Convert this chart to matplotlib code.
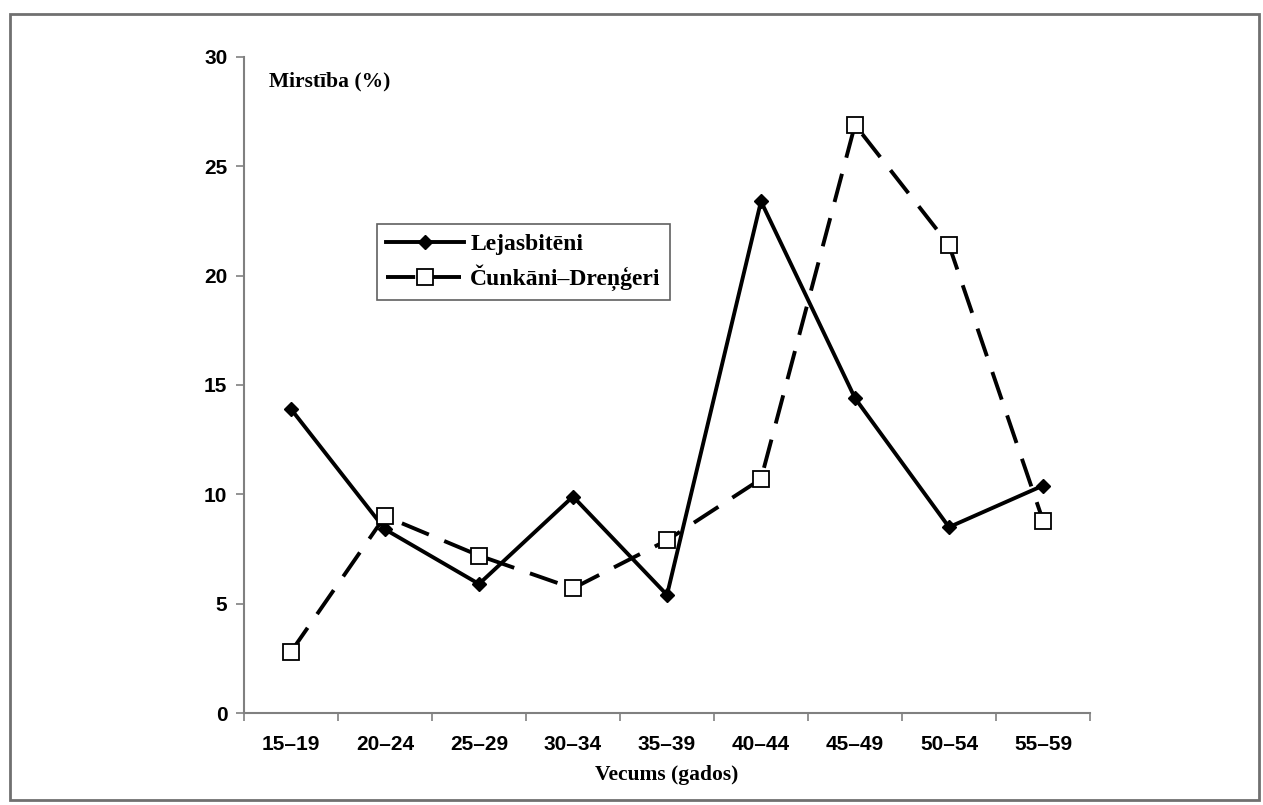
import matplotlib
matplotlib.use("Agg")
import matplotlib.pyplot as plt
from matplotlib.patches import Rectangle
from matplotlib.ticker import FixedLocator, NullFormatter

categories = ["15–19", "20–24", "25–29", "30–34", "35–39", "40–44", "45–49", "50–54", "55–59"]
lejasbiteni = [13.9, 8.4, 5.9, 9.9, 5.4, 23.4, 14.4, 8.5, 10.4]
cunkani = [2.8, 9.0, 7.2, 5.7, 7.9, 10.7, 26.9, 21.4, 8.8]
y_ticks = [0, 5, 10, 15, 20, 25, 30]

plt.rcParams['lines.scale_dashes'] = False

fig = plt.figure(figsize=(12.63, 8.05), dpi=100)
fig.patch.set_facecolor("white")
ax = fig.add_axes([244/1263, 1-713/805, (1090-244)/1263, (713-57)/805])

# figure frame
fig.patches.append(Rectangle((10/1263, 1-800/805), (1259-10)/1263, (800-14)/805,
                             transform=fig.transFigure, fill=False,
                             edgecolor="#707070", linewidth=2.0))

x = list(range(len(categories)))
ax.plot(x, lejasbiteni, color="black", linewidth=2.8, marker="D", markersize=7,
        markerfacecolor="black", markeredgecolor="black", label="Lejasbitēni", zorder=3)
ax.plot(x, cunkani, color="black", linewidth=2.8, linestyle=(0, (21, 12)), marker="s",
        markersize=12, markerfacecolor="white", markeredgecolor="black",
        markeredgewidth=1.3, label="Čunkāni–Dreņģeri", zorder=4)

ax.set_xlim(-0.5, len(categories) - 0.5)
ax.set_ylim(0, 30)
ax.set_yticks(y_ticks)
ax.set_yticklabels([str(t) for t in y_ticks], fontfamily="Liberation Sans",
                   fontweight="bold", fontsize=15)

# x: tick marks at category boundaries, labels at centers
ax.xaxis.set_major_locator(FixedLocator([i - 0.5 for i in range(len(categories) + 1)]))
ax.xaxis.set_major_formatter(NullFormatter())
ax.xaxis.set_minor_locator(FixedLocator(x))
ax.set_xticklabels(categories, minor=True, fontfamily="Liberation Sans",
                   fontweight="bold", fontsize=15)
ax.tick_params(axis="x", which="minor", length=0, pad=16)
ax.tick_params(axis="x", which="major", length=6, width=1.2, color="#808080", direction="out")
ax.tick_params(axis="y", which="major", length=6, width=1.2, color="#808080", direction="out", pad=6)

for s in ["top", "right"]:
    ax.spines[s].set_visible(False)
for s in ["left", "bottom"]:
    ax.spines[s].set_color("#808080")
    ax.spines[s].set_linewidth(1.5)

ax.set_xlabel("Vecums (gados)", fontfamily="Liberation Serif", fontweight="bold",
              fontsize=15.5, labelpad=8)
ax.text(0.03, 0.962, "Mirstība (%)", transform=ax.transAxes, fontfamily="Liberation Serif",
        fontweight="bold", fontsize=15.5, va="center", ha="left")

leg = ax.legend(loc="upper left", bbox_to_anchor=((377-244)/846, (713-224)/656),
                frameon=True, fancybox=False, edgecolor="#606060", framealpha=1,
                prop={"family": "Liberation Serif", "weight": "bold", "size": 17},
                handlelength=3.3, handletextpad=0.25, borderpad=0.4, labelspacing=0.4,
                borderaxespad=0)
leg.get_frame().set_linewidth(1.2)

fig.savefig("out.png", dpi=100, facecolor="white")
